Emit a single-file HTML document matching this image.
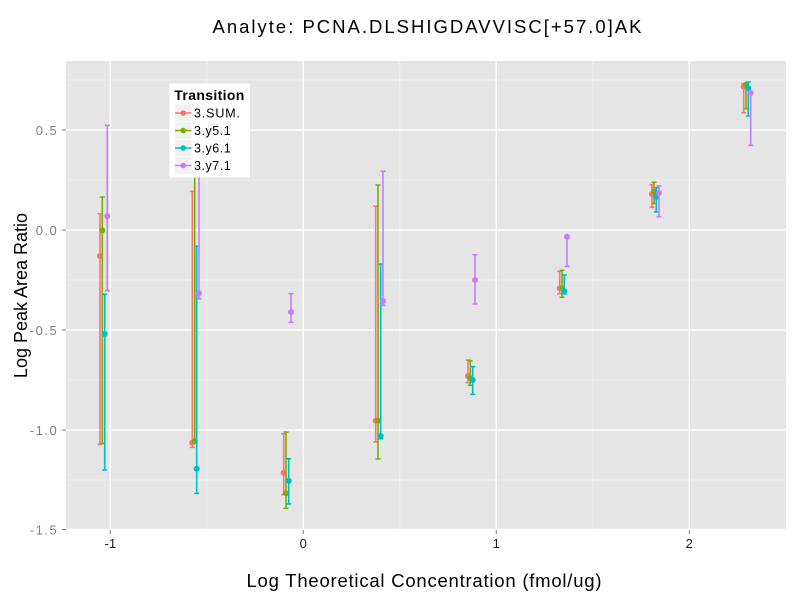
<!DOCTYPE html>
<html>
<head>
<meta charset="utf-8">
<style>
  html, body { margin:0; padding:0; background:#fff; }
  svg { display:block; font-family:"Liberation Sans", Arial, sans-serif; }
</style>
</head>
<body>
<svg width="800" height="600" viewBox="0 0 800 600" xmlns="http://www.w3.org/2000/svg">
  <rect width="800" height="600" fill="#ffffff"/>
  <!-- panel -->
  <rect x="66" y="61" width="720" height="469" fill="#E5E5E5"/>
  <!-- minor grid -->
  <g stroke="#F2F2F2" stroke-width="0.8">
    <line x1="66" y1="80" x2="786" y2="80"/>
    <line x1="66" y1="180" x2="786" y2="180"/>
    <line x1="66" y1="280" x2="786" y2="280"/>
    <line x1="66" y1="380" x2="786" y2="380"/>
    <line x1="66" y1="480" x2="786" y2="480"/>
    <line x1="206.8" y1="61" x2="206.8" y2="530"/>
    <line x1="399.8" y1="61" x2="399.8" y2="530"/>
    <line x1="592.8" y1="61" x2="592.8" y2="530"/>
  </g>
  <!-- major grid -->
  <g stroke="#FFFFFF" stroke-width="1.4">
    <line x1="66" y1="130" x2="786" y2="130"/>
    <line x1="66" y1="230" x2="786" y2="230"/>
    <line x1="66" y1="330" x2="786" y2="330"/>
    <line x1="66" y1="430" x2="786" y2="430"/>
    <line x1="66" y1="529.5" x2="786" y2="529.5"/>
    <line x1="110.3" y1="61" x2="110.3" y2="530"/>
    <line x1="303.3" y1="61" x2="303.3" y2="530"/>
    <line x1="496.3" y1="61" x2="496.3" y2="530"/>
    <line x1="689.3" y1="61" x2="689.3" y2="530"/>
  </g>
  <!-- ticks -->
  <g stroke="#7F7F7F" stroke-width="1">
    <line x1="62" y1="130" x2="66" y2="130"/>
    <line x1="62" y1="230" x2="66" y2="230"/>
    <line x1="62" y1="330" x2="66" y2="330"/>
    <line x1="62" y1="430" x2="66" y2="430"/>
    <line x1="62" y1="529.5" x2="66" y2="529.5"/>
    <line x1="110.3" y1="530" x2="110.3" y2="534"/>
    <line x1="303.3" y1="530" x2="303.3" y2="534"/>
    <line x1="496.3" y1="530" x2="496.3" y2="534"/>
    <line x1="689.3" y1="530" x2="689.3" y2="534"/>
  </g>
  <!-- y tick labels -->
  <g fill="#7F7F7F" font-size="13" text-anchor="end">
    <text x="56.7" y="135" textLength="21" lengthAdjust="spacing">0.5</text>
    <text x="56.7" y="235" textLength="21" lengthAdjust="spacing">0.0</text>
    <text x="56.7" y="335" textLength="27" lengthAdjust="spacing">-0.5</text>
    <text x="56.7" y="435" textLength="27" lengthAdjust="spacing">-1.0</text>
    <text x="56.7" y="534.5" textLength="27" lengthAdjust="spacing">-1.5</text>
  </g>
  <!-- x tick labels -->
  <g fill="#1a1a1a" font-size="13" text-anchor="middle">
    <text x="110.3" y="548">-1</text>
    <text x="303.3" y="548">0</text>
    <text x="496.3" y="548">1</text>
    <text x="689.3" y="548">2</text>
  </g>
  <!-- axis titles -->
  <text x="424" y="587" font-size="18.5" fill="#000" text-anchor="middle" textLength="355" lengthAdjust="spacing">Log Theoretical Concentration (fmol/ug)</text>
  <text transform="translate(27,295.5) rotate(-90)" font-size="18" fill="#000" text-anchor="middle">Log Peak Area Ratio</text>
  <!-- title -->
  <text x="427" y="33" font-size="18.5" fill="#000" text-anchor="middle" textLength="429" lengthAdjust="spacing">Analyte: PCNA.DLSHIGDAVVISC[+57.0]AK</text>

  <!-- series: SUM -->
  <g stroke="#F8766D" stroke-width="1.6" fill="none">
    <path d="M100 213.7V444.3M97.5 213.7H102.5M97.5 444.3H102.5"/>
    <path d="M192.3 191.3V447.3M189.8 191.3H194.8M189.8 447.3H194.8"/>
    <path d="M283.7 433.7V494.7M281.2 433.7H286.2M281.2 494.7H286.2"/>
    <path d="M375.7 206.3V442M373.2 206.3H378.2M373.2 442H378.2"/>
    <path d="M468 360V382.7M465.5 360H470.5M465.5 382.7H470.5"/>
    <path d="M559.7 271.3V293.7M557.2 271.3H562.2M557.2 293.7H562.2"/>
    <path d="M652 184.7V207.3M649.5 184.7H654.5M649.5 207.3H654.5"/>
    <path d="M743.7 83.7V112.7M741.2 83.7H746.2M741.2 112.7H746.2"/>
  </g>
  <g fill="#F8766D">
    <circle cx="100" cy="256" r="3"/>
    <circle cx="192.3" cy="442.7" r="3"/>
    <circle cx="283.7" cy="472.7" r="3"/>
    <circle cx="375.7" cy="420.7" r="3"/>
    <circle cx="468" cy="376" r="3"/>
    <circle cx="559.7" cy="288.3" r="3"/>
    <circle cx="652" cy="194" r="3"/>
    <circle cx="743.7" cy="86.7" r="3"/>
  </g>

  <!-- series: y5.1 -->
  <g stroke="#7CAE00" stroke-width="1.6" fill="none">
    <path d="M102.3 197V443.3M99.8 197H104.8M99.8 443.3H104.8"/>
    <path d="M194.7 150V443M192.2 150H197.2M192.2 443H197.2"/>
    <path d="M286 432V508.3M283.5 432H288.5M283.5 508.3H288.5"/>
    <path d="M378 185V459M375.5 185H380.5M375.5 459H380.5"/>
    <path d="M470.3 360.7V385.3M467.8 360.7H472.8M467.8 385.3H472.8"/>
    <path d="M562 270.3V297.3M559.5 270.3H564.5M559.5 297.3H564.5"/>
    <path d="M654 182.3V203.7M651.5 182.3H656.5M651.5 203.7H656.5"/>
    <path d="M746 83.7V108.7M743.5 83.7H748.5M743.5 108.7H748.5"/>
  </g>
  <g fill="#7CAE00">
    <circle cx="102.3" cy="230.3" r="3"/>
    <circle cx="194.7" cy="441" r="3"/>
    <circle cx="286" cy="493.3" r="3"/>
    <circle cx="378" cy="420.7" r="3"/>
    <circle cx="470.3" cy="378.3" r="3"/>
    <circle cx="562" cy="288.3" r="3"/>
    <circle cx="654" cy="191.7" r="3"/>
    <circle cx="746" cy="84.7" r="3"/>
  </g>

  <!-- series: y6.1 -->
  <g stroke="#00BFC4" stroke-width="1.6" fill="none">
    <path d="M104.7 294.3V470M102.2 294.3H107.2M102.2 470H107.2"/>
    <path d="M196.7 246.3V493.3M194.2 246.3H199.2M194.2 493.3H199.2"/>
    <path d="M288.7 458.7V504M286.2 458.7H291.2M286.2 504H291.2"/>
    <path d="M380.7 264V438.7M378.2 264H383.2M378.2 438.7H383.2"/>
    <path d="M472.7 366.7V394.3M470.2 366.7H475.2M470.2 394.3H475.2"/>
    <path d="M564.3 275V294M561.8 275H566.8M561.8 294H566.8"/>
    <path d="M656.3 187.7V212M653.8 187.7H658.8M653.8 212H658.8"/>
    <path d="M748.3 82V116M745.8 82H750.8M745.8 116H750.8"/>
  </g>
  <g fill="#00BFC4">
    <circle cx="104.7" cy="334" r="3"/>
    <circle cx="196.7" cy="468.7" r="3"/>
    <circle cx="288.7" cy="480.7" r="3"/>
    <circle cx="380.7" cy="436" r="3"/>
    <circle cx="472.7" cy="380" r="3"/>
    <circle cx="564.3" cy="291" r="3"/>
    <circle cx="656.3" cy="197" r="3"/>
    <circle cx="748.3" cy="88.3" r="3"/>
  </g>

  <!-- series: y7.1 -->
  <g stroke="#C77CFF" stroke-width="1.6" fill="none">
    <path d="M107.3 125.3V290.7M104.8 125.3H109.8M104.8 290.7H109.8"/>
    <path d="M199 120V298.7M196.5 120H201.5M196.5 298.7H201.5"/>
    <path d="M291 293.7V322.3M288.5 293.7H293.5M288.5 322.3H293.5"/>
    <path d="M383 171.3V305.3M380.5 171.3H385.5M380.5 305.3H385.5"/>
    <path d="M475 254.7V304M472.5 254.7H477.5M472.5 304H477.5"/>
    <path d="M567 236.7V266.3M564.5 236.7H569.5M564.5 266.3H569.5"/>
    <path d="M659 186V216.7M656.5 186H661.5M656.5 216.7H661.5"/>
    <path d="M750.7 93V145.3M748.2 93H753.2M748.2 145.3H753.2"/>
  </g>
  <g fill="#C77CFF">
    <circle cx="107.3" cy="216.3" r="3"/>
    <circle cx="199" cy="293.3" r="3"/>
    <circle cx="291" cy="312" r="3"/>
    <circle cx="383" cy="301" r="3"/>
    <circle cx="475" cy="280" r="3"/>
    <circle cx="567" cy="236.7" r="3"/>
    <circle cx="659" cy="193" r="3"/>
    <circle cx="750.7" cy="93" r="3"/>
  </g>

  <!-- legend -->
  <rect x="169.5" y="83.5" width="80.5" height="94" fill="#FFFFFF"/>
  <text x="174.3" y="100" font-size="14" font-weight="bold" fill="#000" textLength="70" lengthAdjust="spacing">Transition</text>
  <g fill="#F2F2F2">
    <rect x="175" y="104.5" width="16.5" height="17"/>
    <rect x="175" y="122" width="16.5" height="17"/>
    <rect x="175" y="139.5" width="16.5" height="17"/>
    <rect x="175" y="157" width="16.5" height="17"/>
  </g>
  <g stroke-width="1.4">
    <line x1="175" y1="113" x2="191.5" y2="113" stroke="#F8766D"/>
    <line x1="175" y1="130.5" x2="191.5" y2="130.5" stroke="#7CAE00"/>
    <line x1="175" y1="148" x2="191.5" y2="148" stroke="#00BFC4"/>
    <line x1="175" y1="165.5" x2="191.5" y2="165.5" stroke="#C77CFF"/>
  </g>
  <circle cx="183.2" cy="113" r="2.8" fill="#F8766D"/>
  <circle cx="183.2" cy="130.5" r="2.8" fill="#7CAE00"/>
  <circle cx="183.2" cy="148" r="2.8" fill="#00BFC4"/>
  <circle cx="183.2" cy="165.5" r="2.8" fill="#C77CFF"/>
  <g font-size="12.5" fill="#000">
    <text x="194" y="117.5" textLength="46" lengthAdjust="spacing">3.SUM.</text>
    <text x="194" y="135" textLength="36.7" lengthAdjust="spacing">3.y5.1</text>
    <text x="194" y="152.5" textLength="36.7" lengthAdjust="spacing">3.y6.1</text>
    <text x="194" y="170" textLength="36.7" lengthAdjust="spacing">3.y7.1</text>
  </g>
</svg>
</body>
</html>
